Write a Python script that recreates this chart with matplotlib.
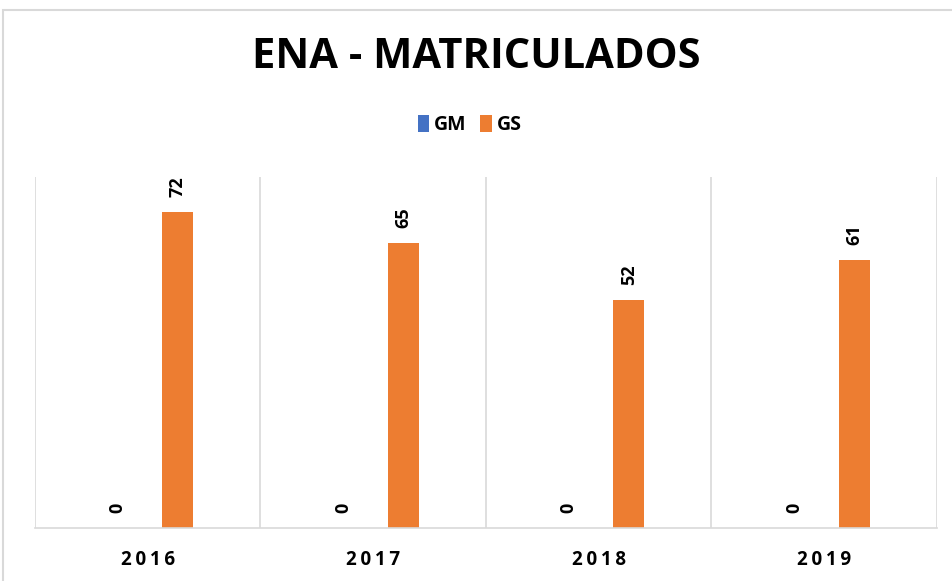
import numpy as np
import matplotlib.pyplot as plt
from matplotlib.patches import Rectangle

years = ['2016', '2017', '2018', '2019']
gm = [0, 0, 0, 0]
gs = [72, 65, 52, 61]

BLUE = '#4472C4'
ORANGE = '#ED7D31'
GRID = '#D9D9D9'

plt.rcParams['font.family'] = ['Open Sans', 'DejaVu Sans']

fig = plt.figure(figsize=(9.53, 5.81), dpi=100)
ax = fig.add_axes([35/953, 1-528/581, (937-35)/953, (528-177)/581])

x = np.arange(len(years))
w = 0.1375
off = 0.133
b1 = ax.bar(x - off, gm, w, color=BLUE, label='GM')
b2 = ax.bar(x + off, gs, w, color=ORANGE, label='GS')

for bars in (b1, b2):
    for r in bars:
        v = r.get_height()
        ax.annotate(f'{v:.0f}', (r.get_x() + r.get_width()/2, v),
                    xytext=(0, 11), textcoords='offset points',
                    rotation=90, ha='center', va='bottom',
                    fontsize=13, fontweight='bold')

ax.set_xlim(-0.5, len(years) - 0.5)
ax.set_ylim(0, 80)
ax.set_yticks([])
ax.set_xticks(x)
ax.set_xticklabels(['\u2009'.join(y) for y in years], fontsize=13.5, fontweight='bold')
ax.tick_params(axis='x', length=0, pad=16)
for xb in np.arange(-0.5, len(years), 1):
    ax.axvline(xb, color=GRID, lw=1.2, zorder=0)
for s in ('top', 'left', 'right'):
    ax.spines[s].set_visible(False)
ax.spines['bottom'].set_color(GRID)
ax.spines['bottom'].set_linewidth(1.2)

fig.text(0.5, 1-58/581, 'ENA - MATRICULADOS', ha='center', va='center',
         fontsize=30, fontweight='bold')
fig.legend(loc='center', bbox_to_anchor=(0.493, 1-125/581), ncol=2, frameon=False,
           prop={'weight': 'bold', 'size': 14}, handlelength=0.6, handleheight=1.0,
           handletextpad=0.25, columnspacing=0.7)

fig.patches.append(Rectangle((3/953, -0.1), 1.1, 1 - 10/581 + 0.1, transform=fig.transFigure,
                             fill=False, edgecolor=GRID, lw=1.5))

fig.savefig('out.png', dpi=100)
